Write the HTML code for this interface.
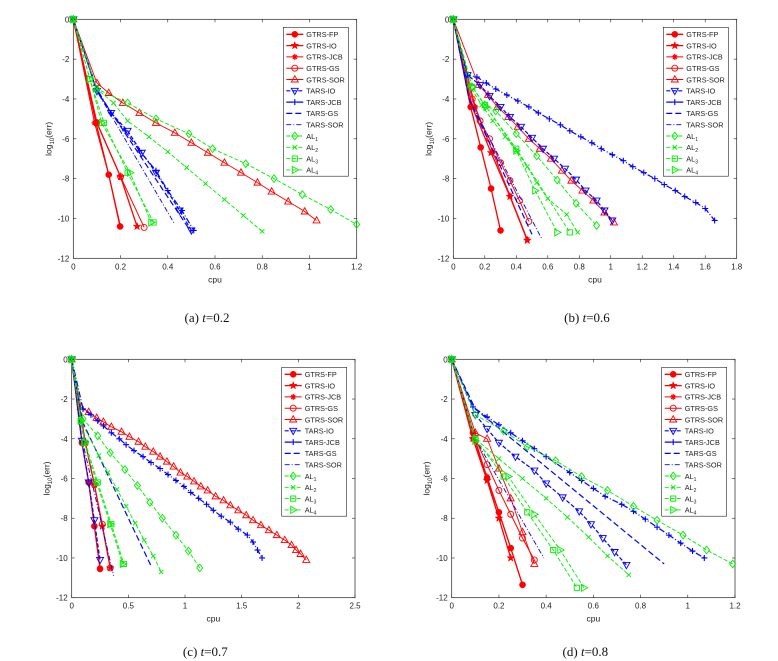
<!DOCTYPE html>
<html><head><meta charset="utf-8"><style>
body{margin:0;background:#fff;}
svg{display:block;font-family:"Liberation Sans",sans-serif;}
.cap{font-family:"Liberation Serif",serif;font-size:13px;}
</style></head><body>
<svg id="fig" width="778" height="661" viewBox="0 0 778 661" xmlns="http://www.w3.org/2000/svg"></svg>
<script>
const seriesNames=["GTRS-FP","GTRS-IO","GTRS-JCB","GTRS-GS","GTRS-SOR","TARS-IO","TARS-JCB","TARS-GS","TARS-SOR","AL1","AL2","AL3","AL4"];
const panelCaptions=["t=0.2","t=0.6","t=0.7","t=0.8"];
const panelLetters=["(a)","(b)","(c)","(d)"];
const xMaxes=[1.2,1.8,2.5,1.2];
const xTickLabelsA=["0","0.2","0.4","0.6","0.8","1","1.2"];
const xTickLabelsB=["0","0.2","0.4","0.6","0.8","1","1.2","1.4","1.6","1.8"];
const xTickLabelsC=["0","0.5","1","1.5","2","2.5"];
const xTickLabelsD=["0","0.2","0.4","0.6","0.8","1","1.2"];
const yTickLabels=["0","-2","-4","-6","-8","-10","-12"];
// Panel (a)
const dataA=[
[[0,0],[0.096,-5.2],[0.15,-7.8],[0.198,-10.4]],
[[0,0],[0.1,-5.2],[0.2,-7.9],[0.27,-10.4]],
[[0,0],[0.09,-5.2],[0.15,-7.8],[0.2,-10.4]],
[[0,0],[0.1,-5.2],[0.2,-7.9],[0.3,-10.45]],
[[0,0],[0.1,-3.2],[0.15,-3.7],[0.21,-4.2],[0.28,-4.7],[0.35,-5.2],[0.43,-5.7],[0.5,-6.2],[0.57,-6.7],[0.64,-7.2],[0.71,-7.7],[0.78,-8.2],[0.84,-8.65],[0.91,-9.15],[0.98,-9.65],[1.03,-10.1]],
[[0,0],[0.1,-3.6],[0.16,-4.7],[0.23,-5.6],[0.29,-6.7],[0.35,-7.7],[0.45,-9.6],[0.5,-10.6]],
[[0,0],[0.1,-3.5],[0.16,-4.7],[0.22,-5.6],[0.28,-6.6],[0.35,-7.6],[0.4,-8.6],[0.46,-9.6],[0.51,-10.6]],
[[0,0],[0.1,-3.6],[0.5,-10.7]],
[[0,0],[0.1,-3.6],[0.43,-10.3]],
[[0,0],[0.1,-3.5],[0.23,-4.2],[0.35,-5],[0.49,-5.75],[0.59,-6.5],[0.73,-7.25],[0.85,-8],[0.97,-8.8],[1.09,-9.55],[1.2,-10.3]],
[[0,0],[0.1,-3.5],[0.17,-4.2],[0.23,-5.1],[0.32,-5.9],[0.4,-6.65],[0.48,-7.45],[0.56,-8.25],[0.64,-9.05],[0.72,-9.85],[0.8,-10.65]],
[[0,0],[0.07,-3],[0.13,-5.2],[0.23,-7.7],[0.34,-10.2]],
[[0,0],[0.07,-3],[0.12,-5.2],[0.24,-7.7],[0.33,-10.2]]];
// Panel (b)
const dataB=[
[[0,0],[0.11,-4.4],[0.174,-6.43],[0.24,-8.5],[0.3,-10.6]],
[[0,0],[0.12,-4.4],[0.24,-6.7],[0.36,-8.9],[0.47,-11.1]],
[[0,0],[0.14,-4.4],[0.25,-6.65],[0.36,-8.85],[0.47,-11.05]],
[[0,0],[0.12,-4],[0.17,-5.1],[0.23,-6],[0.3,-7.2],[0.36,-8.1],[0.42,-9.1],[0.48,-10.15]],
[[0,0],[0.16,-3.3],[0.22,-3.8],[0.28,-4.4],[0.35,-4.9],[0.41,-5.4],[0.48,-6],[0.55,-6.5],[0.62,-7],[0.69,-7.6],[0.75,-8.1],[0.82,-8.6],[0.89,-9.1],[0.96,-9.7],[1.02,-10.2]],
[[0,0],[0.09,-2.8],[0.17,-3.3],[0.23,-3.85],[0.3,-4.4],[0.36,-4.9],[0.43,-5.4],[0.5,-5.95],[0.57,-6.5],[0.64,-7],[0.71,-7.5],[0.78,-8.05],[0.84,-8.6],[0.91,-9.1],[0.96,-9.6],[1.01,-10.1]],
[[0,0],[0.09,-2.8],[0.15,-2.9],[0.21,-3.2],[0.27,-3.5],[0.34,-3.8],[0.41,-4.1],[0.48,-4.4],[0.54,-4.7],[0.61,-5],[0.68,-5.3],[0.74,-5.6],[0.81,-5.9],[0.88,-6.2],[0.94,-6.5],[1.01,-6.8],[1.08,-7.1],[1.14,-7.4],[1.21,-7.7],[1.28,-8],[1.34,-8.3],[1.41,-8.6],[1.47,-8.9],[1.54,-9.2],[1.6,-9.5],[1.66,-10.1]],
[[0,0],[0.1,-4],[0.5,-10.8]],
[[0,0],[0.1,-4],[0.56,-11]],
[[0,0],[0.12,-3.4],[0.2,-4.3],[0.27,-4.6],[0.4,-5.74],[0.53,-6.86],[0.66,-8.07],[0.78,-9.24],[0.91,-10.35]],
[[0,0],[0.1,-3.3],[0.18,-4.3],[0.25,-5.1],[0.33,-5.9],[0.4,-6.6],[0.47,-7.4],[0.53,-8.2],[0.6,-9],[0.72,-9.8],[0.79,-10.7]],
[[0,0],[0.12,-3.4],[0.2,-4.3],[0.4,-6.5],[0.74,-10.7]],
[[0,0],[0.12,-3.4],[0.21,-4.4],[0.4,-6.6],[0.52,-8.6],[0.66,-10.7]]];
// Panel (c)
const dataC=[
[[0,0],[0.09,-4.2],[0.15,-6.2],[0.2,-8.4],[0.25,-10.55]],
[[0,0],[0.12,-4.2],[0.2,-6.3],[0.27,-8.4],[0.34,-10.5]],
[[0,0],[0.09,-4.2],[0.15,-6.2],[0.2,-8.4],[0.25,-10.5]],
[[0,0],[0.12,-4.2],[0.2,-6.3],[0.27,-8.3],[0.34,-10.5]],
[[0,0],[0.08,-2.4],[0.15,-2.65],[0.22,-2.95],[0.28,-3.15],[0.35,-3.4],[0.44,-3.65],[0.51,-3.9],[0.59,-4.15],[0.65,-4.4],[0.72,-4.65],[0.78,-4.9],[0.84,-5.15],[0.9,-5.4],[0.96,-5.7],[1.02,-5.9],[1.08,-6.15],[1.14,-6.4],[1.2,-6.6],[1.27,-6.9],[1.34,-7.1],[1.4,-7.35],[1.47,-7.6],[1.54,-7.85],[1.6,-8.1],[1.67,-8.35],[1.74,-8.6],[1.81,-8.85],[1.88,-9.1],[1.94,-9.35],[1.98,-9.6],[2.02,-9.8],[2.07,-10.1]],
[[0,0],[0.09,-4.1],[0.15,-6.2],[0.2,-8.1],[0.25,-10.1]],
[[0,0],[0.1,-2.5],[0.17,-2.8],[0.23,-3.1],[0.28,-3.35],[0.35,-3.7],[0.42,-4.0],[0.48,-4.3],[0.55,-4.6],[0.63,-4.9],[0.7,-5.2],[0.78,-5.5],[0.85,-5.8],[0.92,-6.1],[0.99,-6.4],[1.05,-6.7],[1.12,-7.0],[1.19,-7.3],[1.25,-7.6],[1.32,-7.9],[1.4,-8.2],[1.47,-8.55],[1.55,-8.85],[1.6,-9.2],[1.64,-9.6],[1.68,-10]],
[[0,0],[0.1,-3.2],[0.7,-10.4]],
[[0,0],[0.09,-4],[0.37,-10.9]],
[[0,0],[0.1,-3],[0.23,-3.85],[0.34,-4.7],[0.47,-5.55],[0.58,-6.35],[0.69,-7.2],[0.8,-8],[0.92,-8.85],[1.03,-9.65],[1.13,-10.5]],
[[0,0],[0.08,-3.1],[0.24,-4.85],[0.32,-5.7],[0.4,-6.55],[0.48,-7.4],[0.56,-8.25],[0.64,-9.1],[0.72,-9.9],[0.79,-10.7]],
[[0,0],[0.08,-3.1],[0.12,-4.2],[0.23,-6.2],[0.35,-8.3],[0.46,-10.3]],
[[0,0],[0.08,-3.1],[0.11,-4.2],[0.22,-6.2],[0.34,-8.3],[0.45,-10.3]]];
// Panel (d)
const dataD=[
[[0,0],[0.09,-3.7],[0.15,-6],[0.2,-7.7],[0.25,-9.5],[0.3,-11.35]],
[[0,0],[0.09,-4],[0.15,-6.1],[0.2,-8],[0.25,-10]],
[[0,0],[0.09,-4],[0.15,-5.9],[0.2,-7.7],[0.25,-9.5],[0.3,-11.35]],
[[0,0],[0.1,-4],[0.15,-5.3],[0.2,-6.6],[0.25,-7.8],[0.3,-9],[0.35,-10.1]],
[[0,0],[0.1,-3.7],[0.15,-4],[0.2,-5.5],[0.25,-7],[0.3,-8.7],[0.35,-10.3]],
[[0,0],[0.1,-2.8],[0.15,-3.5],[0.2,-4.2],[0.27,-4.9],[0.35,-5.6],[0.4,-6.25],[0.47,-6.95],[0.54,-7.65],[0.59,-8.3],[0.64,-9],[0.69,-9.7],[0.74,-10.35]],
[[0,0],[0.09,-2.4],[0.15,-2.9],[0.2,-3.3],[0.25,-3.7],[0.3,-4.1],[0.35,-4.5],[0.4,-4.9],[0.5,-5.7],[0.55,-6.1],[0.6,-6.5],[0.65,-6.9],[0.72,-7.3],[0.77,-7.65],[0.82,-8.05],[0.87,-8.45],[0.92,-8.85],[0.97,-9.25],[1.02,-9.65],[1.07,-10]],
[[0,0],[0.1,-2.5],[0.9,-10.3]],
[[0,0],[0.1,-4],[0.39,-10]],
[[0,0],[0.1,-2.8],[0.22,-3.6],[0.32,-4.4],[0.44,-5.1],[0.55,-5.9],[0.66,-6.6],[0.77,-7.4],[0.87,-8.1],[0.98,-8.85],[1.08,-9.6],[1.19,-10.3]],
[[0,0],[0.1,-4],[0.2,-5],[0.3,-6],[0.4,-7],[0.49,-7.95],[0.58,-8.95],[0.66,-9.9],[0.75,-10.85]],
[[0,0],[0.1,-4],[0.22,-5.9],[0.32,-7.7],[0.43,-9.6],[0.53,-11.5]],
[[0,0],[0.1,-4.1],[0.24,-5.9],[0.35,-7.8],[0.46,-9.6],[0.56,-11.5]]];

const panelData=[dataA,dataB,dataC,dataD];
const panelTicks=[xTickLabelsA,xTickLabelsB,xTickLabelsC,xTickLabelsD];
const boxes=[{l:73.3,r:356.7,t:19.3,b:258.3},{l:453.3,r:736.7,t:19.3,b:258.3},{l:71.7,r:355,t:359.3,b:597.7},{l:451.7,r:735,t:359.3,b:597.7}];
const colors=["#ff0000","#ff0000","#ff0000","#ff0000","#ff0000","#0000ff","#0000ff","#0000ff","#0000ff","#00ee00","#00ee00","#00ee00","#00ee00"];
const dashes=["","","","","","4,2","6,2,1,2","6,3","5,2,1,2","4,2","4,2","4,2","4,2"];
const widths=[1.3,1.3,1,1,0.9,1.2,1.2,1.2,0.9,0.9,0.9,0.9,0.9];
const markers=["hex","star","ast","circ","tri","tridown","plus",null,null,"diam","x","sq","triright"];
const NS="http://www.w3.org/2000/svg";
const svg=document.getElementById('fig');
function mk(tag,attrs,parent){const e=document.createElementNS(NS,tag);for(const k in attrs)e.setAttribute(k,attrs[k]);(parent||svg).appendChild(e);return e;}
function marker(g,type,x,y,c){
  const s=3;let e;
  if(type==="hex"){e=mk('circle',{cx:x,cy:y,r:2.8,fill:c,stroke:c},g);}
  else if(type==="star"){let p=[];for(let i=0;i<10;i++){const a=-Math.PI/2+i*Math.PI/5,r=i%2?1.6:4;p.push((x+r*Math.cos(a)).toFixed(2)+','+(y+r*Math.sin(a)).toFixed(2));}e=mk('polygon',{points:p.join(' '),fill:c,stroke:c,'stroke-width':0.5},g);}
  else if(type==="ast"){e=mk('path',{d:`M${x-s},${y}H${x+s}M${x},${y-s}V${y+s}M${x-2},${y-2}L${x+2},${y+2}M${x-2},${y+2}L${x+2},${y-2}`,stroke:c,'stroke-width':1.2,fill:'none'},g);}
  else if(type==="circ"){e=mk('circle',{cx:x,cy:y,r:3,fill:'none',stroke:c,'stroke-width':0.9},g);}
  else if(type==="tri"){e=mk('polygon',{points:`${x},${y-3.8} ${x-3.5},${y+2.5} ${x+3.5},${y+2.5}`,fill:'none',stroke:c,'stroke-width':0.9},g);}
  else if(type==="tridown"){e=mk('polygon',{points:`${x},${y+3.8} ${x-3.5},${y-2.5} ${x+3.5},${y-2.5}`,fill:'none',stroke:c,'stroke-width':0.9},g);}
  else if(type==="triright"){e=mk('polygon',{points:`${x+3.8},${y} ${x-2.5},${y-3.5} ${x-2.5},${y+3.5}`,fill:'none',stroke:c,'stroke-width':0.9},g);}
  else if(type==="plus"){e=mk('path',{d:`M${x-s},${y}H${x+s}M${x},${y-s}V${y+s}`,stroke:c,'stroke-width':1.1,fill:'none'},g);}
  else if(type==="x"){e=mk('path',{d:`M${x-2.2},${y-2.2}L${x+2.2},${y+2.2}M${x-2.2},${y+2.2}L${x+2.2},${y-2.2}`,stroke:c,'stroke-width':0.9,fill:'none'},g);}
  else if(type==="diam"){e=mk('polygon',{points:`${x},${y-3.8} ${x+3},${y} ${x},${y+3.8} ${x-3},${y}`,fill:'none',stroke:c,'stroke-width':0.9},g);}
  else if(type==="sq"){e=mk('rect',{x:x-2.6,y:y-2.6,width:5.2,height:5.2,fill:'none',stroke:c,'stroke-width':0.9},g);}
  if(e){
  }
}
panelData.forEach((data,pi)=>{
  const B=boxes[pi],xm=xMaxes[pi],ticks=panelTicks[pi];
  const sx=v=>B.l+(v/xm)*(B.r-B.l), sy=v=>B.t+(v/-12)*(B.b-B.t);
  const g=mk('g',{});
  
  
  const box=mk('rect',{x:B.l,y:B.t,width:B.r-B.l,height:B.b-B.t,fill:'#fff',stroke:'#222','stroke-width':0.7},g);
  
  
  ticks.forEach((t,i)=>{const v=i*xm/(ticks.length-1),x=sx(v);
    mk('line',{x1:x,x2:x,y1:B.b,y2:B.b-3,stroke:'#222','stroke-width':0.6},g);
    mk('line',{x1:x,x2:x,y1:B.t,y2:B.t+3,stroke:'#222','stroke-width':0.6},g);
    const tx=mk('text',{x:x,y:B.b+11,'font-size':8,'text-anchor':'middle',fill:'#222'},g);tx.textContent=t;
    
    });
  yTickLabels.forEach((t,i)=>{const y=sy(-2*i);
    mk('line',{x1:B.l,x2:B.l+3,y1:y,y2:y,stroke:'#222','stroke-width':0.6},g);
    mk('line',{x1:B.r,x2:B.r-3,y1:y,y2:y,stroke:'#222','stroke-width':0.6},g);
    const ty=mk('text',{x:B.l-4,y:y+3,'font-size':8,'text-anchor':'end',fill:'#222'},g);ty.textContent=t;
    
    });
  const xl=mk('text',{x:(B.l+B.r)/2,y:B.b+24,'font-size':8.5,'text-anchor':'middle',fill:'#222'},g);xl.textContent='cpu';
  
  
  const yl=mk('text',{transform:`translate(${B.l-22},${(B.t+B.b)/2}) rotate(-90)`,'font-size':8.5,'text-anchor':'middle',fill:'#222'},g);
  yl.innerHTML='log<tspan font-size="6" dy="2.5">10</tspan><tspan dy="-2.5">(err)</tspan>';
  
  
  data.forEach((pts,si)=>{
    const c=colors[si];
    const sg=mk('g',{},g);
    
    
    const pl=mk('polyline',{points:pts.map(p=>sx(p[0]).toFixed(2)+','+sy(p[1]).toFixed(2)).join(' '),fill:'none',stroke:c,'stroke-width':widths[si],'stroke-dasharray':dashes[si]},sg);
    
    
    if(markers[si])pts.forEach(p=>marker(sg,markers[si],sx(p[0]),sy(p[1]),c));
  });
  // legend
  const lx=B.l+210,ly=B.t+8,rowH=11.3;
  const lg=mk('g',{},g);
  
  
  mk('rect',{x:lx,y:ly,width:65,height:rowH*13+2,fill:'#fff',stroke:'#222','stroke-width':0.6},lg);
  seriesNames.forEach((n,si)=>{
    const y=ly+7+si*rowH,c=colors[si];
    const eg=mk('g',{},lg);
    
    
    mk('line',{x1:lx+3,x2:lx+20,y1:y,y2:y,stroke:c,'stroke-width':widths[si],'stroke-dasharray':dashes[si]},eg);
    if(markers[si])marker(eg,markers[si],lx+11.5,y,c);
    const t=mk('text',{x:lx+23,y:y+2.8,'font-size':7.3,fill:'#222'},eg);
    if(n.startsWith('AL'))t.innerHTML='AL<tspan font-size="5" dy="2">'+n.slice(2)+'</tspan>';else t.textContent=n;
  });
  const cap=mk('text',{x:(B.l+B.r)/2-8,y:pi<2?322:656,'text-anchor':'middle',class:'cap',fill:'#111'},svg);
  cap.innerHTML=panelLetters[pi]+'  <tspan font-style="italic">t</tspan>='+panelCaptions[pi].slice(2);
  
  
});
</script>
</body></html>
